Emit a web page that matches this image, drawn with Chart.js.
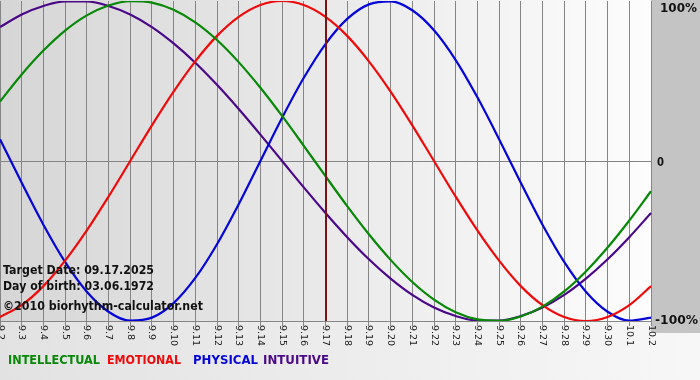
<!DOCTYPE html>
<html>
<head>
<meta charset="utf-8">
<script src="https://cdn.jsdelivr.net/npm/chart.js@4"></script>
<style>
  html, body { margin: 0; padding: 0; background: #ececec; }
  #wrap { width: 700px; height: 380px; position: relative; }
</style>
</head>
<body>
<div id="wrap"><canvas id="c" width="700" height="380"></canvas></div>
<script>
const dayLabels = ["9.2","9.3","9.4","9.5","9.6","9.7","9.8","9.9","9.10","9.11","9.12","9.13","9.14","9.15","9.16","9.17","9.18","9.19","9.20","9.21","9.22","9.23","9.24","9.25","9.26","9.27","9.28","9.29","9.30","10.1","10.2"];
const intellectual = [37.2, 54.1, 69.0, 81.5, 91.0, 97.2, 99.9, 99.0, 94.5, 86.6, 75.6, 61.8, 45.8, 28.2, 9.5, -9.5, -28.2, -45.8, -61.8, -75.6, -86.6, -94.5, -99.0, -99.9, -97.2, -91.0, -81.5, -69.0, -54.1, -37.2, -18.9];
const emotional = [-97.5, -90.1, -78.2, -62.3, -43.4, -22.3, 0, 22.3, 43.4, 62.3, 78.2, 90.1, 97.5, 100, 97.5, 90.1, 78.2, 62.3, 43.4, 22.3, 0, -22.3, -43.4, -62.3, -78.2, -90.1, -97.5, -100, -97.5, -90.1, -78.2];
const physical = [13.6, -13.6, -39.8, -63.1, -81.7, -94.2, -99.8, -97.9, -88.8, -73.1, -52.0, -27.0, 0, 27.0, 52.0, 73.1, 88.8, 97.9, 99.8, 94.2, 81.7, 63.1, 39.8, 13.6, -13.6, -39.8, -63.1, -81.7, -94.2, -99.8, -97.9];
const intuitive = [83.7, 91.6, 96.9, 99.7, 99.7, 96.9, 91.6, 83.7, 73.5, 61.4, 47.6, 32.5, 16.5, 0, -16.5, -32.5, -47.6, -61.4, -73.5, -83.7, -91.6, -96.9, -99.7, -99.7, -96.9, -91.6, -83.7, -73.5, -61.4, -47.6, -32.5];
const yTickLabels = ["100%", "0", "-100%"];
const yTickValues = [100, 0, -100];
const targetLabel = "9.17";
const infoLines = ["Target Date: 09.17.2025", "Day of birth: 03.06.1972", "\u00a92010 biorhythm-calculator.net"];
const legendNames = ["INTELLECTUAL", "EMOTIONAL", "PHYSICAL", "INTUITIVE"];

const COLORS = { intellectual: '#078807', emotional: '#ee0a0a', physical: '#0505d8', intuitive: '#4a0888' };
const legendColors = [COLORS.intellectual, COLORS.emotional, COLORS.physical, COLORS.intuitive];

function fitText(ctx, t, x, y, w) {
  const m = ctx.measureText(t).width;
  ctx.save();
  ctx.translate(x, y);
  ctx.scale(w / m, 1);
  ctx.fillText(t, 0, 0);
  ctx.restore();
}

const bgPlugin = {
  id: 'bg',
  beforeDraw(chart) {
    const { ctx, chartArea: a, width, height } = chart;
    ctx.save();
    let g = ctx.createLinearGradient(0, 0, width, 0);
    g.addColorStop(0, '#e2e2e2');
    g.addColorStop(1, '#f7f7f7');
    ctx.fillStyle = g;
    ctx.fillRect(0, 0, width, height);
    ctx.fillStyle = '#c4c4c4';
    ctx.fillRect(a.right, 0, width - a.right, a.bottom + 12);
    g = ctx.createLinearGradient(a.left, 0, a.right, 0);
    g.addColorStop(0, '#d6d6d6');
    g.addColorStop(1, '#fdfdfd');
    ctx.fillStyle = g;
    ctx.fillRect(a.left, a.top - 1, a.right - a.left, a.bottom - a.top + 1);
    ctx.restore();
  },
  afterDatasetsDraw(chart) {
    const { ctx, chartArea: a, scales } = chart;
    ctx.save();
    const tx = Math.round(scales.x.getPixelForValue(dayLabels.indexOf(targetLabel)));
    ctx.strokeStyle = '#7a1414';
    ctx.lineWidth = 2;
    ctx.beginPath();
    ctx.moveTo(tx, 0);
    ctx.lineTo(tx, a.bottom);
    ctx.stroke();
    ctx.fillStyle = '#111';
    ctx.font = 'bold 12px "DejaVu Sans"';
    ctx.textBaseline = 'middle';
    ctx.textAlign = 'left';
    const ys = [271, 287, 307];
    const targetW = [151, 151, 200];
    infoLines.forEach((t, i) => fitText(ctx, t, 3, ys[i], targetW[i]));
    ctx.restore();
  },
  afterDraw(chart) {
    const { ctx, chartArea: a, scales } = chart;
    ctx.save();
    ctx.fillStyle = '#1a1a1a';
    ctx.font = '9.5px "DejaVu Sans"';
    ctx.textAlign = 'left';
    ctx.textBaseline = 'middle';
    dayLabels.forEach((lab, i) => {
      const x = scales.x.getPixelForTick(i);
      ctx.save();
      ctx.translate(x, a.bottom + 4);
      ctx.rotate(Math.PI / 2);
      ctx.fillText(lab, 0, 0);
      ctx.restore();
    });
    ctx.font = 'bold 13px "DejaVu Sans"';
    ctx.fillStyle = '#111';
    const yOffsets = [8, 2, 0];
    const xs = [660, 657, 655];
    const ws = [37, 7, 43];
    yTickValues.forEach((v, i) => {
      const y = scales.y.getPixelForValue(v) + yOffsets[i];
      fitText(ctx, yTickLabels[i], xs[i], y, ws[i]);
    });
    ctx.font = 'bold 12px "DejaVu Sans"';
    const lx = [8, 107, 193, 263];
    const lw = [92, 74, 65, 66];
    legendNames.forEach((t, i) => {
      ctx.fillStyle = legendColors[i];
      fitText(ctx, t, lx[i], 361, lw[i]);
    });
    ctx.restore();
  }
};

const mk = (label, data, color) => ({
  label, data, borderColor: color, borderWidth: 2.2, pointRadius: 0,
  cubicInterpolationMode: 'monotone', fill: false
});

new Chart(document.getElementById('c'), {
  type: 'line',
  data: {
    labels: dayLabels,
    datasets: [
      mk('INTELLECTUAL', intellectual, COLORS.intellectual),
      mk('EMOTIONAL', emotional, COLORS.emotional),
      mk('PHYSICAL', physical, COLORS.physical),
      mk('INTUITIVE', intuitive, COLORS.intuitive)
    ]
  },
  options: {
    responsive: false,
    animation: false,
    devicePixelRatio: 1,
    layout: { padding: { top: 1, right: 0, bottom: 0, left: 0 } },
    plugins: { legend: { display: false }, tooltip: { enabled: false } },
    scales: {
      x: {
        type: 'category',
        offset: false,
        afterFit(s) { s.height = 59; },
        ticks: { display: false },
        grid: { color: '#858585', lineWidth: 1, drawTicks: true, tickLength: 5 },
        border: { display: true, color: '#858585', width: 1 }
      },
      y: {
        position: 'right',
        min: -100, max: 100,
        afterFit(s) { s.width = 49; },
        ticks: { display: false, stepSize: 100 },
        grid: {
          drawTicks: false,
          color: (c) => (c.tick && c.tick.value === 0) ? '#858585' : 'rgba(0,0,0,0)'
        },
        border: { display: false }
      }
    }
  },
  plugins: [bgPlugin]
});
</script>
</body>
</html>
